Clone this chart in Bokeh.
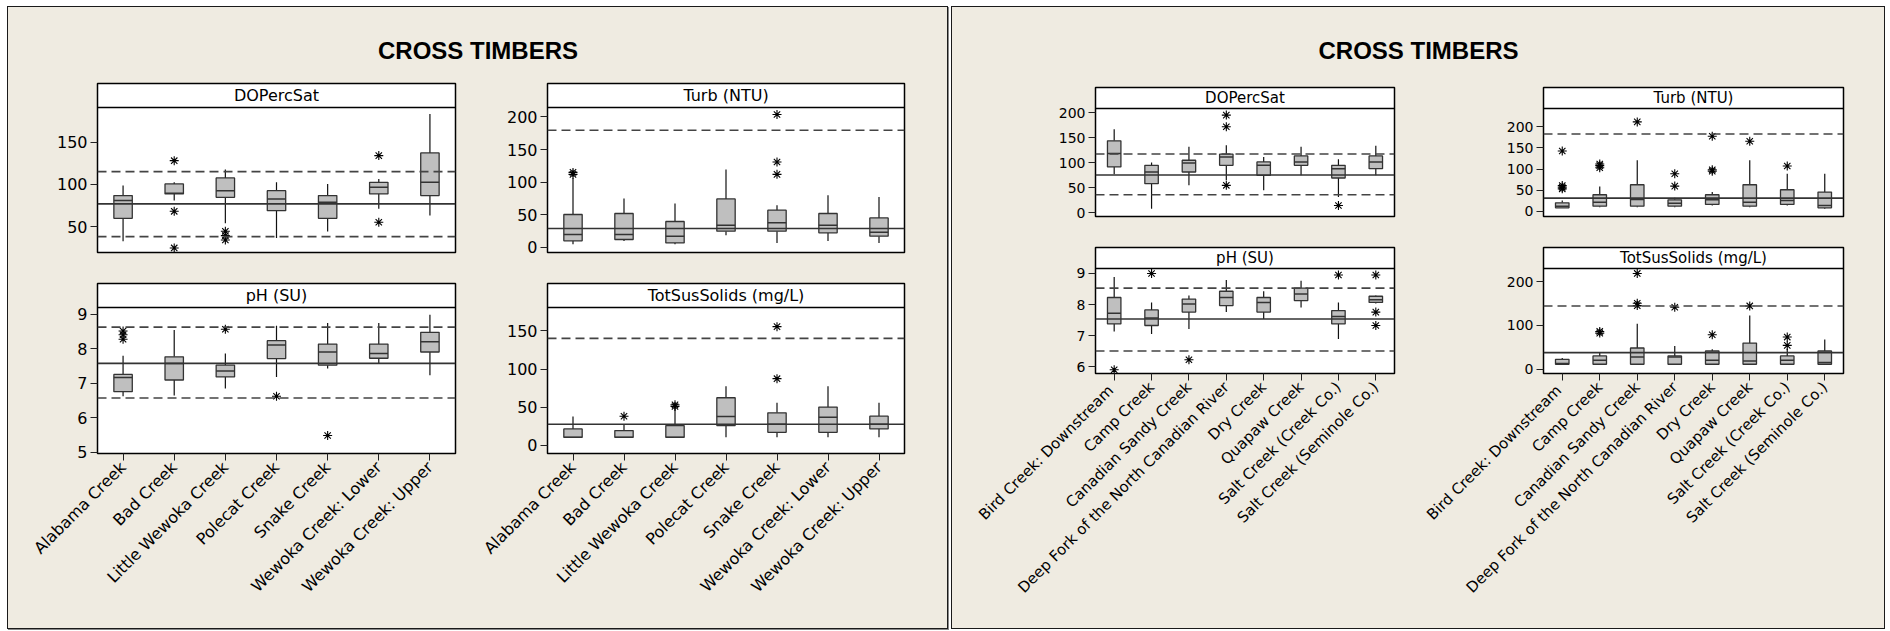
import math
from bokeh.plotting import figure
from bokeh.models import ColumnDataSource, FactorRange, Range1d, Span, FixedTicker, Label
from bokeh.layouts import row, column
from bokeh.transform import dodge
from bokeh.embed import file_html
from bokeh.resources import INLINE
from bokeh.core.properties import value

TITLE = "CROSS TIMBERS"

# ---------------- left panel data ----------------
sites_a = ["Alabama Creek", "Bad Creek", "Little Wewoka Creek", "Polecat Creek",
           "Snake Creek", "Wewoka Creek: Lower", "Wewoka Creek: Upper"]

do_a_lo = [32.5, 80.7, 53.8, 36.5, 44.0, 70.9, 62.9]
do_a_q1 = [59.7, 88.6, 84.6, 68.8, 59.7, 88.6, 86.6]
do_a_med = [80.7, 89.4, 92.5, 82.7, 78.7, 96.5, 102.4]
do_a_q3 = [86.6, 100.4, 107.6, 92.5, 86.6, 102.4, 137.2]
do_a_hi = [98.5, 102.4, 117.4, 102.4, 100.4, 106.4, 183.4]
do_a_out_site = [1, 1, 1, 2, 2, 2, 5, 5]
do_a_out_val = [128, 68, 24.6, 44.3, 39.2, 34, 134, 55]
do_a_ref = [76.8]
do_a_lim = [115, 38]

tu_a_lo = [5, 10, 5, 18.8, 7, 10, 7]
tu_a_q1 = [10.2, 12.2, 7, 25, 25, 22.4, 17.3]
tu_a_med = [19.9, 19.9, 17.3, 34.1, 37.7, 34.1, 23.4]
tu_a_q3 = [50.5, 52, 39.8, 74.4, 57.1, 52, 45.3]
tu_a_hi = [106.6, 75, 67.4, 119.4, 64.8, 80, 77.5]
tu_a_out_site = [0, 0, 4, 4, 4]
tu_a_out_val = [115, 112, 203.7, 131, 112]
tu_a_ref = [29.1]
tu_a_lim = [179.6]

ph_a_lo = [6.62, 6.64, 6.84, 7.18, 7.42, 7.57, 7.23]
ph_a_q1 = [6.75, 7.09, 7.18, 7.71, 7.52, 7.72, 7.90]
ph_a_med = [7.16, 7.57, 7.35, 8.10, 7.90, 7.86, 8.20]
ph_a_q3 = [7.25, 7.76, 7.52, 8.23, 8.13, 8.13, 8.47]
ph_a_hi = [7.79, 8.54, 7.86, 8.66, 8.74, 8.74, 8.98]
ph_a_out_site = [0, 0, 0, 2, 3, 4]
ph_a_out_val = [8.51, 8.40, 8.27, 8.56, 6.62, 5.48]
ph_a_ref = [7.57]
ph_a_lim = [8.62, 6.57]

ts_a_lo = [10.6, 10.6, 10.6, 10.6, 10.6, 10.6, 10.6]
ts_a_q1 = [10.6, 10.6, 10.6, 26, 17.2, 17.2, 21.6]
ts_a_med = [10.6, 10.6, 10.6, 37.8, 27.7, 37, 27.7]
ts_a_q3 = [21.6, 19.4, 26, 62.5, 42.7, 50.2, 38.3]
ts_a_hi = [37.8, 26.8, 50, 77.4, 55.9, 77.4, 55.9]
ts_a_out_site = [1, 2, 2, 4, 4]
ts_a_out_val = [38.3, 53.2, 51, 155.7, 87.5]
ts_a_ref = [27.7]
ts_a_lim = [140.3]

# ---------------- right panel data ----------------
sites_b = ["Bird Creek:  Downstream", "Camp Creek", "Canadian Sandy Creek",
           "Deep Fork of the North Canadian River", "Dry Creek", "Quapaw Creek",
           "Salt Creek (Creek Co.)", "Salt Creek (Seminole Co.)"]

do_b_lo = [77, 8, 55, 65, 45, 75, 31.5, 75]
do_b_q1 = [91.8, 58.3, 81.7, 95.1, 75, 95.1, 69.7, 88.4]
do_b_med = [118.6, 81.7, 99.8, 111.9, 95.1, 101.8, 88.4, 101.8]
do_b_q3 = [144, 95.1, 105.2, 117.3, 101.8, 113.9, 95.1, 113.9]
do_b_hi = [167.5, 100.5, 132, 135.3, 111.9, 132, 107.2, 134]
do_b_out_site = [3, 3, 3, 6]
do_b_out_val = [195.6, 172.2, 55, 14.7]
do_b_ref = [75.6]
do_b_lim = [117.8, 36.2]

tu_b_lo = [7.9, 9.5, 9.5, 9.5, 13.5, 9.5, 13.5, 5.6]
tu_b_q1 = [7.9, 11.9, 11.9, 11.9, 15.9, 11.9, 15.9, 7.9]
tu_b_med = [11.9, 21.4, 27.8, 19, 27, 21.4, 25.4, 13.5]
tu_b_q3 = [19.8, 38.9, 62.7, 27, 38.9, 62.7, 50.8, 45.2]
tu_b_hi = [25.4, 58.7, 120.6, 31.7, 45.2, 120.6, 88.9, 88.9]
tu_b_out_site = [0, 0, 0, 0, 1, 1, 1, 2, 3, 3, 4, 4, 4, 5, 6]
tu_b_out_val = [142.9, 61, 57, 53, 112, 108, 103, 211.9, 88.9, 59.5, 177.8, 98.4, 95, 165.9, 107.1]
tu_b_ref = [31]
tu_b_lim = [183.3]

ph_b_lo = [7.14, 7.06, 7.22, 7.76, 7.54, 7.91, 6.90, 8.04]
ph_b_q1 = [7.38, 7.33, 7.76, 7.97, 7.76, 8.13, 7.38, 8.07]
ph_b_med = [7.72, 7.57, 8.02, 8.23, 8.07, 8.34, 7.62, 8.16]
ph_b_q3 = [8.23, 7.83, 8.18, 8.43, 8.23, 8.53, 7.81, 8.27]
ph_b_hi = [8.89, 8.07, 8.29, 8.79, 8.43, 8.77, 8.07, 8.29]
ph_b_out_site = [0, 1, 2, 6, 7, 7, 7]
ph_b_out_val = [5.91, 9.0, 6.23, 8.95, 8.95, 7.76, 7.33]
ph_b_ref = [7.54]
ph_b_lim = [8.53, 6.51]

ts_b_lo = [11.4, 11.4, 11.4, 11.4, 11.4, 11.4, 11.4, 11.4]
ts_b_q1 = [11.4, 11.4, 11.4, 11.4, 11.4, 11.4, 11.4, 11.4]
ts_b_med = [12.9, 20.5, 28, 28, 20.5, 18.9, 20.5, 15.2]
ts_b_q3 = [22.7, 30.3, 48.5, 30.3, 41.7, 59.8, 30.3, 41.7]
ts_b_hi = [25.8, 37.9, 103.8, 53, 45.5, 122.7, 47, 68.2]
ts_b_out_site = [1, 1, 2, 2, 2, 3, 4, 5, 6, 6]
ts_b_out_val = [86.4, 82.6, 219, 150.8, 145.5, 141.7, 78.8, 144.7, 73.5, 54.5]
ts_b_ref = [37.9]
ts_b_lim = [144.7]

BG = "#efebe1"
FONT = "DejaVu Sans"


def box_fig(sites, name, lo, q1, med, q3, hi, out_site, out_val, ref, lim,
            yr, ticks, w, h, bl, br, bt, bb, strip, show_x,
            ytick_fs, xlab_fs, strip_fs):
    ylo, yhi = yr
    H = h - bt - bb - strip
    yend = yhi + strip * (yhi - ylo) / H
    p = figure(width=w, height=h, x_range=FactorRange(factors=sites),
               y_range=Range1d(ylo, yend), title=None,
               min_border_left=bl, min_border_right=br,
               min_border_top=bt, min_border_bottom=bb,
               toolbar_location=None, output_backend="svg",
               background_fill_color="white", border_fill_color=BG,
               outline_line_color="black", outline_line_width=1.5)
    p.xgrid.visible = False
    p.ygrid.visible = False

    src = ColumnDataSource(dict(site=sites, lo=lo, q1=q1, med=med, q3=q3, hi=hi))
    for v in ref:
        p.add_layout(Span(location=v, dimension="width", line_color="#333333",
                          line_width=1.6))
    for v in lim:
        p.add_layout(Span(location=v, dimension="width", line_color="#444444",
                          line_width=1.6, line_dash="9 5"))
    p.segment(x0="site", x1="site", y0="q3", y1="hi", source=src,
              line_color="#111111", line_width=1.2)
    p.segment(x0="site", x1="site", y0="q1", y1="lo", source=src,
              line_color="#111111", line_width=1.2)
    p.vbar(x="site", bottom="q1", top="q3", width=0.36, source=src,
           fill_color="#bfbfbf", line_color="#333333", line_width=1.3)
    p.segment(x0=dodge("site", -0.18, range=p.x_range),
              x1=dodge("site", 0.18, range=p.x_range),
              y0="med", y1="med", source=src, line_color="#333333", line_width=1.5)
    osrc = ColumnDataSource(dict(site=[sites[i] for i in out_site], val=out_val))
    p.scatter(x="site", y="val", source=osrc, marker="asterisk", size=9,
              line_color="black", line_width=1.1)
    p.add_layout(Span(location=yhi, dimension="width", line_color="black",
                      line_width=1.5))
    p.add_layout(Label(x=len(sites) / 2, y=(yhi + yend) / 2, text=name,
                       text_align="center", text_baseline="middle",
                       text_font=FONT, text_font_size=strip_fs, text_color="black"))

    ya = p.yaxis[0]
    ya.ticker = FixedTicker(ticks=ticks)
    ya.axis_line_color = None
    ya.minor_tick_line_color = None
    ya.major_tick_in = 0
    ya.major_tick_out = 7
    ya.major_tick_line_color = "#222222"
    ya.major_label_standoff = 3
    ya.major_label_text_font = FONT
    ya.major_label_text_font_size = ytick_fs
    ya.major_label_text_color = "black"

    xa = p.xaxis[0]
    if show_x:
        xa.axis_line_color = None
        xa.major_tick_in = 0
        xa.major_tick_out = 7
        xa.major_tick_line_color = "#222222"
        xa.major_label_orientation = math.pi / 4
        xa.major_label_standoff = 4
        xa.major_label_text_font = FONT
        xa.major_label_text_font_size = xlab_fs
        xa.major_label_text_color = "black"
    else:
        xa.visible = False
    return p


def title_fig(w, h):
    p = figure(width=w, height=h, x_range=Range1d(0, 1), y_range=Range1d(0, h),
               x_axis_type=None, y_axis_type=None, title=None,
               min_border=0, toolbar_location=None, output_backend="svg",
               background_fill_color=BG, border_fill_color=BG, outline_line_color=None)
    p.text(x=[0.5], y=[h - 43], text=[TITLE], text_align="center",
           text_baseline="middle", text_font=value("Liberation Sans"),
           text_font_style="bold", text_font_size="24px", text_color="black")
    return p


# ---------------- left panel ----------------
a1 = box_fig(sites_a, "DOPercSat", do_a_lo, do_a_q1, do_a_med, do_a_q3, do_a_hi,
             do_a_out_site, do_a_out_val, do_a_ref, do_a_lim, (19.2, 191), [50, 100, 150],
             452, 201, 89, 5, 16, 16, 24, False, "16px", "16px", "16px")
a2 = box_fig(sites_a, "Turb (NTU)", tu_a_lo, tu_a_q1, tu_a_med, tu_a_q3, tu_a_hi,
             tu_a_out_site, tu_a_out_val, tu_a_ref, tu_a_lim, (-7.7, 214.4),
             [0, 50, 100, 150, 200],
             487, 201, 87, 43, 16, 16, 24, False, "16px", "16px", "16px")
a3 = box_fig(sites_a, "pH (SU)", ph_a_lo, ph_a_q1, ph_a_med, ph_a_q3, ph_a_hi,
             ph_a_out_site, ph_a_out_val, ph_a_ref, ph_a_lim, (4.96, 9.19), [5, 6, 7, 8, 9],
             452, 360, 89, 5, 15, 175, 24, True, "16px", "16px", "16px")
a4 = box_fig(sites_a, "TotSusSolids (mg/L)", ts_a_lo, ts_a_q1, ts_a_med, ts_a_q3, ts_a_hi,
             ts_a_out_site, ts_a_out_val, ts_a_ref, ts_a_lim, (-10.6, 180.8),
             [0, 50, 100, 150],
             487, 360, 87, 43, 15, 175, 24, True, "16px", "16px", "16px")

left = column(title_fig(939, 60), row(a1, a2), row(a3, a4),
              styles={"border": "1px solid #1a1a1a", "background-color": BG,
                      "box-shadow": "1px 1px 0 #888888"})

# ---------------- right panel ----------------
b1 = box_fig(sites_b, "DOPercSat", do_b_lo, do_b_q1, do_b_med, do_b_q3, do_b_hi,
             do_b_out_site, do_b_out_val, do_b_ref, do_b_lim, (-7.4, 208.8),
             [0, 50, 100, 150, 200],
             463, 164, 143, 21, 20, 15, 21, False, "14px", "15px", "15px")
b2 = box_fig(sites_b, "Turb (NTU)", tu_b_lo, tu_b_q1, tu_b_med, tu_b_q3, tu_b_hi,
             tu_b_out_site, tu_b_out_val, tu_b_ref, tu_b_lim, (-12.7, 243.7),
             [0, 50, 100, 150, 200],
             469, 164, 128, 41, 20, 15, 21, False, "14px", "15px", "15px")
b3 = box_fig(sites_b, "pH (SU)", ph_b_lo, ph_b_q1, ph_b_med, ph_b_q3, ph_b_hi,
             ph_b_out_site, ph_b_out_val, ph_b_ref, ph_b_lim, (5.79, 9.16), [6, 7, 8, 9],
             463, 397, 143, 21, 16, 255, 21, True, "14px", "15px", "15px")
b4 = box_fig(sites_b, "TotSusSolids (mg/L)", ts_b_lo, ts_b_q1, ts_b_med, ts_b_q3, ts_b_hi,
             ts_b_out_site, ts_b_out_val, ts_b_ref, ts_b_lim, (-9.8, 230.3), [0, 100, 200],
             469, 397, 128, 41, 16, 255, 21, True, "14px", "15px", "15px")

right = column(title_fig(932, 60), row(b1, b2), row(b3, b4),
               styles={"border": "1px solid #1a1a1a", "background-color": BG})

root = row(left, right, spacing=3,
           styles={"margin-left": "7px", "margin-top": "6px"})

open("out.html", "w").write(file_html(root, INLINE, title="Cross Timbers"))
